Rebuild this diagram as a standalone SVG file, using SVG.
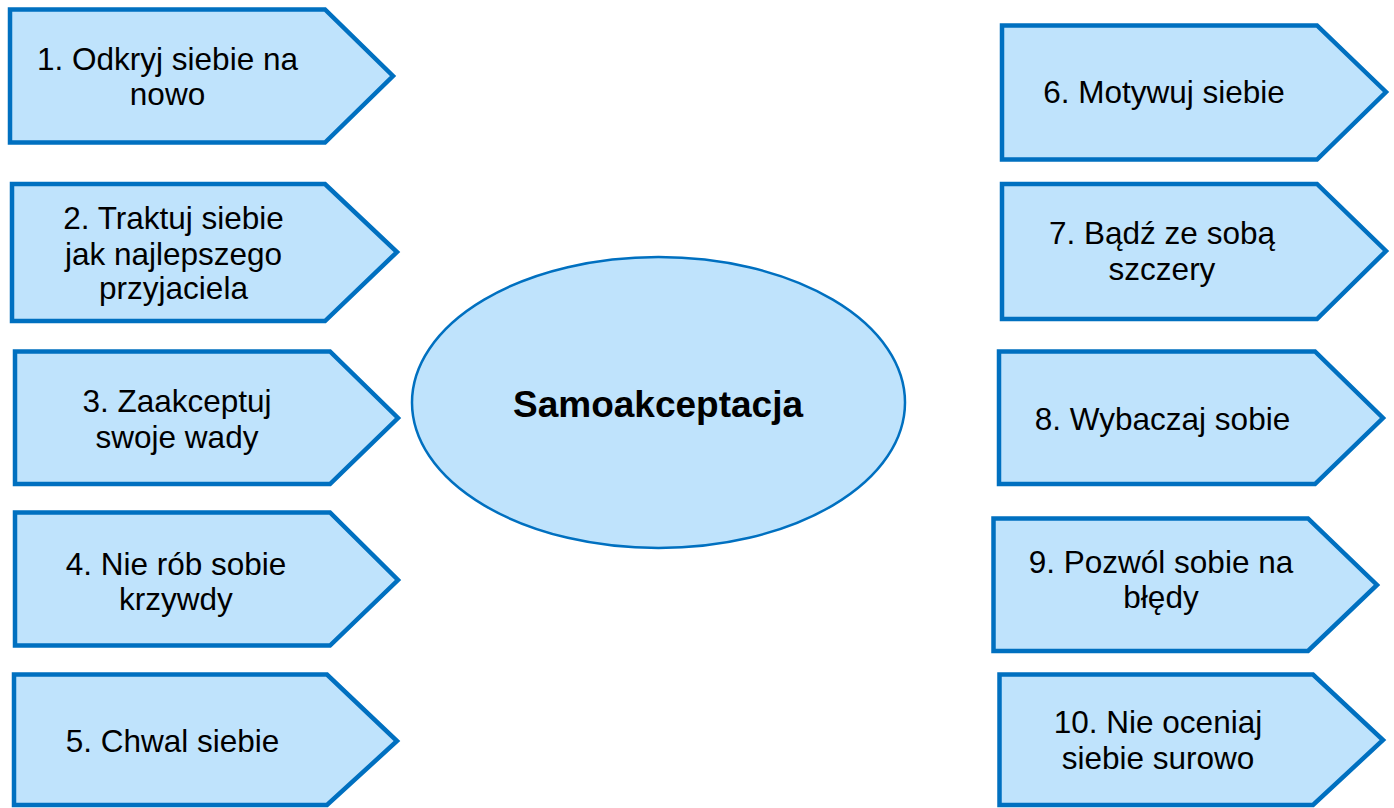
<svg xmlns="http://www.w3.org/2000/svg" width="1394" height="808" viewBox="0 0 1394 808">
  <style>
    .tag { fill: #BFE3FC; stroke: #0070C0; stroke-width: 4.5; stroke-linejoin: miter; }
    .hub { fill: #BFE3FC; stroke: #0070C0; stroke-width: 2.5; }
    .lbl { font-family: "Liberation Sans", Arial, sans-serif; font-size: 31.5px; fill: #000; text-anchor: middle; }
    .title { font-family: "Liberation Sans", Arial, sans-serif; font-size: 37px; font-weight: bold; fill: #000; text-anchor: middle; }
  </style>
  <rect width="1394" height="808" fill="#FFFFFF"/>

  <g id="connectors"></g>

  <!-- central idea -->
  <g id="center">
    <ellipse class="hub" cx="658.5" cy="402.5" rx="246.5" ry="145.5"/>
    <text class="title" x="658" y="417">Samoakceptacja</text>
  </g>

  <!-- left column -->
  <g id="n1">
    <polygon class="tag" points="10,9.5 325,9.5 393,76 325,142.5 10,142.5"/>
    <text class="lbl" x="167.5" y="69.5">1. Odkryj siebie na</text>
    <text class="lbl" x="167.5" y="105">nowo</text>
  </g>
  <g id="n2">
    <polygon class="tag" points="12,184 325,184 397,252 325,321 12,321"/>
    <text class="lbl" x="173.5" y="228.5">2. Traktuj siebie</text>
    <text class="lbl" x="173.5" y="265">jak najlepszego</text>
    <text class="lbl" x="173.5" y="299">przyjaciela</text>
  </g>
  <g id="n3">
    <polygon class="tag" points="15,351.5 330,351.5 398,418 330,484 15,484"/>
    <text class="lbl" x="177" y="411.5">3. Zaakceptuj</text>
    <text class="lbl" x="177" y="448">swoje wady</text>
  </g>
  <g id="n4">
    <polygon class="tag" points="15,512.5 330,512.5 398,580 330,645.5 15,645.5"/>
    <text class="lbl" x="176" y="575">4. Nie rób sobie</text>
    <text class="lbl" x="176" y="610">krzywdy</text>
  </g>
  <g id="n5">
    <polygon class="tag" points="14,674.5 327,674.5 397,741 327,805 14,805"/>
    <text class="lbl" x="172.5" y="751.5">5. Chwal siebie</text>
  </g>

  <!-- right column -->
  <g id="n6">
    <polygon class="tag" points="1002,25.5 1317,25.5 1386,92 1317,159.5 1002,159.5"/>
    <text class="lbl" x="1164" y="102.5">6. Motywuj siebie</text>
  </g>
  <g id="n7">
    <polygon class="tag" points="1002,184 1317,184 1386,251 1317,319 1002,319"/>
    <text class="lbl" x="1162" y="244">7. Bądź ze sobą</text>
    <text class="lbl" x="1162" y="280">szczery</text>
  </g>
  <g id="n8">
    <polygon class="tag" points="999,351.5 1315,351.5 1383,418 1315,484 999,484"/>
    <text class="lbl" x="1162.5" y="430">8. Wybaczaj sobie</text>
  </g>
  <g id="n9">
    <polygon class="tag" points="993.5,518.5 1308,518.5 1377,585 1308,651 993.5,651"/>
    <text class="lbl" x="1161" y="572.5">9. Pozwól sobie na</text>
    <text class="lbl" x="1161" y="608">błędy</text>
  </g>
  <g id="n10">
    <polygon class="tag" points="999.5,674.5 1313,674.5 1383,740 1313,805 999.5,805"/>
    <text class="lbl" x="1158" y="733">10. Nie oceniaj</text>
    <text class="lbl" x="1158" y="769">siebie surowo</text>
  </g>
</svg>
